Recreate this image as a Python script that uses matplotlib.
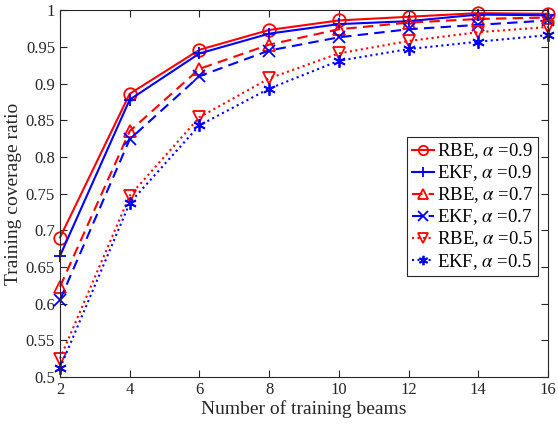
import numpy as np
import matplotlib
matplotlib.use("Agg")
import matplotlib.pyplot as plt

plt.rcParams['font.family'] = ['Liberation Serif', 'DejaVu Serif']
plt.rcParams['mathtext.fontset'] = 'stix'

# Number of training beams
beams = [2, 4, 6, 8, 10, 12, 14, 16]

# Training coverage ratio
rbe_09 = [0.690, 0.886, 0.946, 0.973, 0.986, 0.991, 0.996, 0.995]
ekf_09 = [0.665, 0.878, 0.941, 0.968, 0.981, 0.985, 0.994, 0.993]
rbe_07 = [0.623, 0.835, 0.920, 0.953, 0.974, 0.983, 0.988, 0.990]
ekf_07 = [0.605, 0.824, 0.910, 0.945, 0.963, 0.974, 0.980, 0.986]
rbe_05 = [0.525, 0.747, 0.854, 0.907, 0.941, 0.958, 0.970, 0.977]
ekf_05 = [0.512, 0.737, 0.843, 0.893, 0.931, 0.947, 0.957, 0.966]

labels = [r'RBE, $\alpha$ =0.9', r'EKF, $\alpha$ =0.9',
          r'RBE, $\alpha$ =0.7', r'EKF, $\alpha$ =0.7',
          r'RBE, $\alpha$ =0.5', r'EKF, $\alpha$ =0.5']


def main():
    fig = plt.figure(figsize=(5.58, 4.24), dpi=100)
    ax = fig.add_axes([0.1075, 0.111, 0.8745, 0.865])

    series = [rbe_09, ekf_09, rbe_07, ekf_07, rbe_05, ekf_05]
    colors = ['red', 'blue', 'red', 'blue', 'red', 'blue']
    styles = ['-', '-', (0, (5, 3)), (0, (5, 3)), ':', ':']
    markers = ['o', '+', '^', 'x', 'v', (6, 2, 0)]
    for y, c, ls, m, lab in zip(series, colors, styles, markers, labels):
        ax.plot(beams, y, color=c, linestyle=ls, marker=m, markersize=9,
                markerfacecolor='none', markeredgewidth=1.3, linewidth=1.5,
                label=lab, clip_on=False)

    ax.set_xlim(2, 16)
    ax.set_ylim(0.5, 1.0)
    ax.set_xticks(np.arange(2, 17, 2))
    ax.set_yticks(np.arange(0.5, 1.001, 0.05))
    ax.set_yticklabels(['0.5', '0.55', '0.6', '0.65', '0.7', '0.75', '0.8',
                        '0.85', '0.9', '0.95', '1'])
    ax.tick_params(direction='in', top=True, right=True, labelsize=12,
                   colors='#262626', length=5, width=0.8)
    for s in ax.spines.values():
        s.set_color('#262626')
        s.set_linewidth(0.8)

    ax.set_xlabel('Number of training beams', fontsize=14, color='#262626', labelpad=2)
    ax.set_ylabel('Training coverage ratio', fontsize=14, color='#262626', labelpad=3)

    leg = ax.legend(loc='upper right', bbox_to_anchor=(0.98, 0.655), fontsize=13.5,
                    fancybox=False, edgecolor='#262626', framealpha=1,
                    handlelength=1.2, handletextpad=0.15, labelspacing=0.12,
                    borderpad=0.25, borderaxespad=0, markerscale=0.75)
    leg.get_frame().set_linewidth(0.8)

    fig.savefig('out.png', dpi=100)


if __name__ == "__main__":
    main()
